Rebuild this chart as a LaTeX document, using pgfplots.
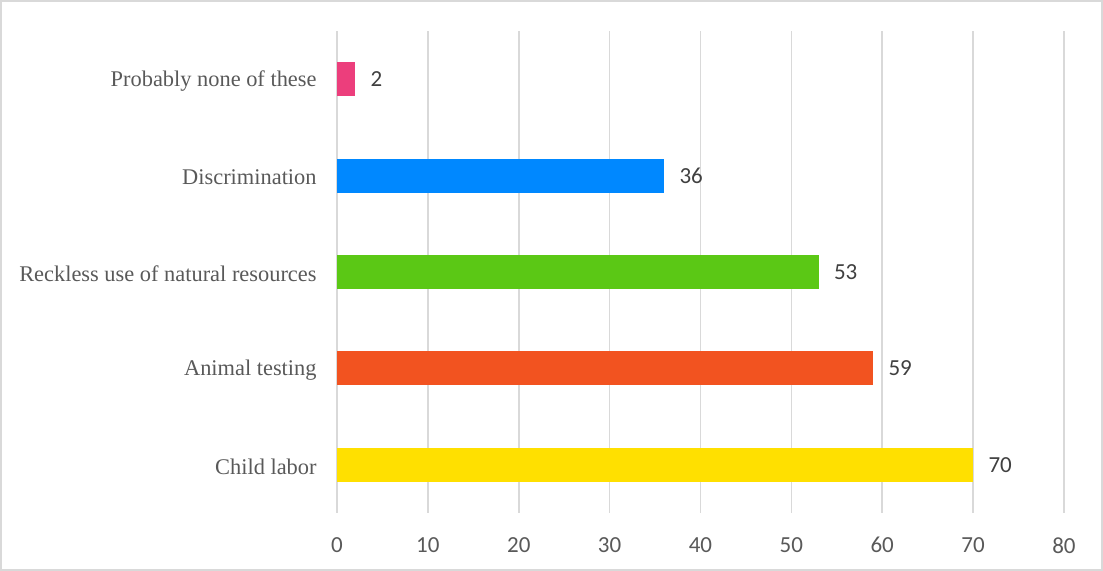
\documentclass[border=0pt]{standalone}
\usepackage{fontspec}
\setmainfont{Liberation Serif}
\newfontfamily\calibri{Carlito}
\usepackage{pgfplots}
\pgfplotsset{compat=1.18}
\definecolor{gridc}{HTML}{D9D9D9}
\definecolor{labc}{HTML}{595959}
\definecolor{valc}{HTML}{404040}
\definecolor{cpink}{HTML}{EC3E7C}
\definecolor{cblue}{HTML}{0088FF}
\definecolor{cgreen}{HTML}{5BC815}
\definecolor{corange}{HTML}{F25320}
\definecolor{cyellow}{HTML}{FFE000}
\begin{document}
\begin{tikzpicture}
\draw[gridc, line width=0.8pt] (0.4pt,0.4pt) rectangle (551.1pt,285.1pt);
\begin{axis}[
  at={(168.5pt,29pt)}, anchor=south west,
  scale only axis, width=363.5pt, height=241pt,
  xmin=0, xmax=80, ymin=-0.5, ymax=4.5,
  xtick={0,10,...,80},
  ytick={0,1,2,3,4},
  yticklabels={Child labor, Animal testing, Reckless use of natural resources, Discrimination, Probably none of these},
  /pgf/number format/assume math mode=true,
  xticklabel style={font=\calibri\fontsize{11.5}{13}\selectfont, text=labc, anchor=north, inner sep=0pt, yshift=-12pt},
  yticklabel style={font=\fontsize{11.2}{13}\selectfont, text=labc, anchor=east, inner sep=0pt, xshift=-10pt, yshift=-1pt},
  major tick length=0pt,
  tick style={draw=none},
  axis line style={draw=none},
  xmajorgrids, grid style={gridc, line width=0.8pt},
  xbar, bar width=17pt, bar shift=0pt,
  nodes near coords,
  every node near coord/.append style={font=\calibri\fontsize{11.5}{13}\selectfont, text=valc, anchor=west, inner sep=0pt, xshift=7.5pt},
  clip=false,
]
\addplot[draw=none, fill=cyellow] coordinates {(70,0)};
\addplot[draw=none, fill=corange] coordinates {(59,1)};
\addplot[draw=none, fill=cgreen] coordinates {(53,2)};
\addplot[draw=none, fill=cblue] coordinates {(36,3)};
\addplot[draw=none, fill=cpink] coordinates {(2,4)};
\end{axis}
\end{tikzpicture}
\end{document}
